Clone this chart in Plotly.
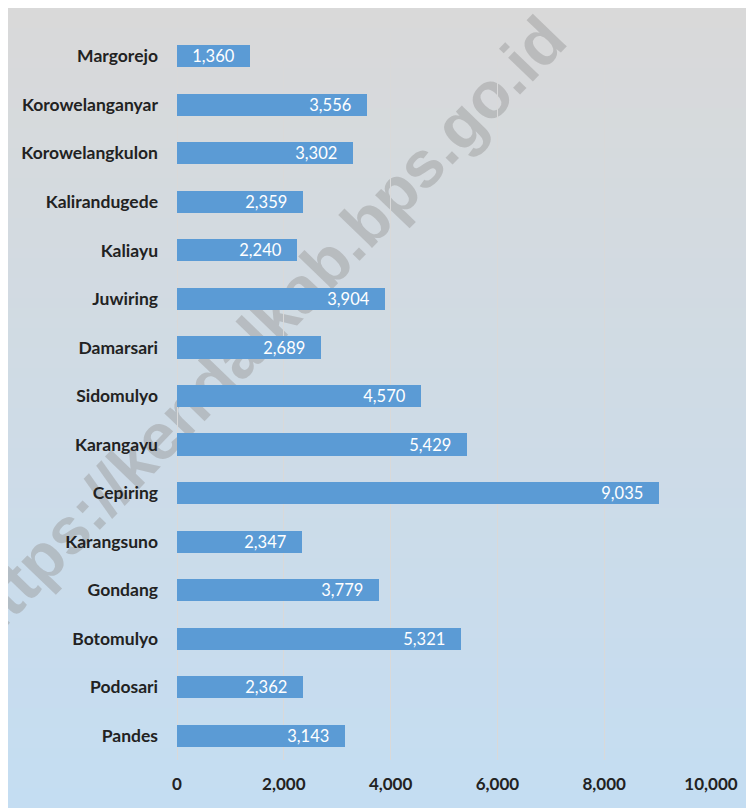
import plotly.graph_objects as go

# data (top to bottom)
villages = ["Margorejo", "Korowelanganyar", "Korowelangkulon", "Kalirandugede", "Kaliayu",
            "Juwiring", "Damarsari", "Sidomulyo", "Karangayu", "Cepiring",
            "Karangsuno", "Gondang", "Botomulyo", "Podosari", "Pandes"]
population = [1360, 3556, 3302, 2359, 2240,
              3904, 2689, 4570, 5429, 9035,
              2347, 3779, 5321, 2362, 3143]
x_ticks = [0, 2000, 4000, 6000, 8000, 10000]
x_tick_labels = ["0", "2,000", "4,000", "6,000", "8,000", "10,000"]

# page body has an 8px margin, so the figure is drawn 8px in from the window edge
OFF = 8
W, H = 754 - OFF, 808 - OFF
L, R, T, B = 177 - OFF, 43, 32 - OFF, 48
pw, ph = W - L - R, H - T - B

def px_x(x):
    # window pixel -> paper coordinate
    return (x - OFF - L) / pw

def px_y(y):
    return (H - B - (y - OFF)) / ph

fig = go.Figure()
fig.add_trace(go.Bar(
    y=villages, x=population, orientation="h",
    marker=dict(color="#5B9BD5", line=dict(width=0)),
    width=0.455,
    texttemplate="%{x:,}" + "\u00a0" * 3,
    textposition="inside", insidetextanchor="end",
    textfont=dict(family="Lato", size=16.5, color="white"),
    constraintext="none",
    hoverinfo="skip",
))

# gradient background: grey at top to light blue at bottom
top_c = (217, 217, 217)
bot_c = (196, 221, 242)
n = 80
shapes = []
for i in range(n):
    f = i / (n - 1)
    c = tuple(round(top_c[k] + (bot_c[k] - top_c[k]) * f) for k in range(3))
    y0 = OFF + H * i / n
    y1 = OFF + H * (i + 1) / n + 0.5
    shapes.append(dict(type="rect", xref="paper", yref="paper",
                       x0=px_x(OFF), x1=px_x(760), y0=px_y(y1), y1=px_y(y0),
                       fillcolor="rgb(%d,%d,%d)" % c, line=dict(width=0), layer="below"))

# watermark, kept under the bars and labels
cx, cy = 257, 326
shapes.append(dict(
    type="rect", xref="paper", yref="paper",
    x0=px_x(cx - 5), x1=px_x(cx + 5), y0=px_y(cy + 5), y1=px_y(cy - 5),
    fillcolor="rgba(0,0,0,0)", line=dict(width=0), layer="below",
    label=dict(text="https://kendalkab.bps.go.id", textangle=-46,
               textposition="middle center",
               font=dict(family="Liberation Sans", size=65, color="rgba(150,150,150,0.45)",
                         weight="bold")),
))

fig.update_layout(
    width=W, height=H,
    margin=dict(l=L, r=R, t=T, b=B),
    paper_bgcolor="white",
    plot_bgcolor="rgba(0,0,0,0)",
    shapes=shapes,
    showlegend=False,
    bargap=0,
    font=dict(family="Lato", color="#222222"),
    xaxis=dict(range=[0, 10000], tickvals=x_ticks, ticktext=x_tick_labels,
               showgrid=True, gridcolor="#d9d9d9", gridwidth=1,
               zeroline=True, zerolinecolor="#d9d9d9", zerolinewidth=1,
               showline=False, ticks="", ticklabelstandoff=12,
               tickfont=dict(family="Lato", size=17, color="#222222", weight="bold")),
    yaxis=dict(autorange="reversed", showgrid=False, zeroline=False, showline=False,
               ticks="", ticklabelstandoff=18,
               tickfont=dict(family="Lato", size=17.5, color="#222222", weight="bold")),
)

fig.write_html("out.html")
